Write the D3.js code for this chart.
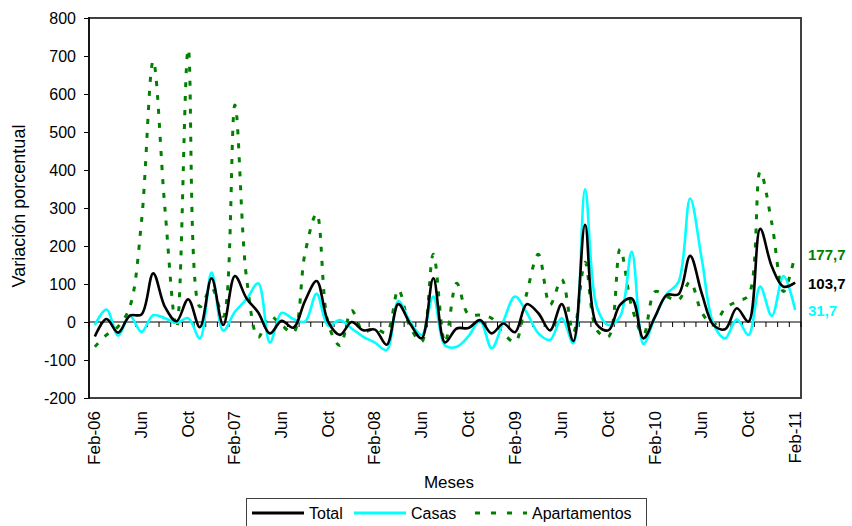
<!DOCTYPE html>
<html><head><meta charset="utf-8">
<script src="https://cdn.jsdelivr.net/npm/d3@7"></script>
<style>body{margin:0;background:#fff;} svg{display:block;font-family:Arial,"Liberation Sans",sans-serif;}</style>
</head><body><svg id="c" width="852" height="526"></svg>
<script>
const months = ["Feb-06","Mar-06","Apr-06","May-06","Jun-06","Jul-06","Aug-06","Sep-06","Oct-06","Nov-06","Dec-06","Jan-07",
"Feb-07","Mar-07","Apr-07","May-07","Jun-07","Jul-07","Aug-07","Sep-07","Oct-07","Nov-07","Dec-07","Jan-08",
"Feb-08","Mar-08","Apr-08","May-08","Jun-08","Jul-08","Aug-08","Sep-08","Oct-08","Nov-08","Dec-08","Jan-09",
"Feb-09","Mar-09","Apr-09","May-09","Jun-09","Jul-09","Aug-09","Sep-09","Oct-09","Nov-09","Dec-09","Jan-10",
"Feb-10","Mar-10","Apr-10","May-10","Jun-10","Jul-10","Aug-10","Sep-10","Oct-10","Nov-10","Dec-10","Jan-11","Feb-11"];
const tickLabels = ["Feb-06","Jun","Oct","Feb-07","Jun","Oct","Feb-08","Jun","Oct","Feb-09","Jun","Oct","Feb-10","Jun","Oct","Feb-11"];
const total = [-38,8,-28,17,20,128,40,2,60,-14,115,-8,121,62,25,-30,3,-15,55,108,0,-34,0,-22,-20,-60,47,-4,-43,115,
-54,-17,-16,5,-30,-4,-27,47,23,-22,47,-50,256,-6,-22,45,62,-43,14,71,73,174,75,-8,-19,36,1,245,146,93,103.7];
const casas = [-8,33,-36,16,-26,18,10,-2,10,-43,130,-23,27,60,102,-54,24,8,1,74,-10,5,-17,-39,-54,-74,55,1,-34,67,
-62,-65,-38,3,-69,2,67,25,-30,-47,10,-56,349,40,-8,14,185,-58,14,74,105,325,165,-5,-43,7,-34,93,16,121,31.7];
const apartamentos = [-65,-34,-12,40,265,687,300,-17,718,40,90,15,571,115,-40,15,-8,-28,180,285,-5,-62,30,-25,-17,-28,85,-12,-52,178,
-55,102,20,18,10,-30,-52,75,178,45,112,-28,157,-21,-39,192,40,-34,80,67,58,106,25,-8,36,54,70,395,260,80,177.7];
const yTicks = [-200,-100,0,100,200,300,400,500,600,700,800];
const seriesNames = ["Total","Casas","Apartamentos"];
const seriesColors = ["#000000","#00FFFF","#008000"];
const endLabels = ["103,7","31,7","177,7"];

const svg = d3.select("#c");
const L = 89, R = 801, T = 18, B = 398;
const x = d3.scaleBand().domain(months).range([L, R]);
const y = d3.scaleLinear().domain([-200, 800]).range([B, T]);
const cx = m => x(m) + x.bandwidth() / 2;

// y axis
const yAxis = svg.append("g").attr("transform", `translate(${L},0)`)
  .call(d3.axisLeft(y).tickValues(yTicks).tickFormat(d => String(d)).tickSize(5).tickSizeOuter(0).tickPadding(8));
yAxis.select(".domain").remove();
yAxis.selectAll("line").attr("stroke", "#000");
yAxis.selectAll("text").attr("font-size", "16px").attr("fill", "#000")
  .attr("font-family", "Arial, 'Liberation Sans', sans-serif");

// frame
svg.append("rect").attr("x", L).attr("y", T).attr("width", R - L).attr("height", B - T)
  .attr("fill", "none").attr("stroke", "#404040").attr("stroke-width", 2);
svg.append("line").attr("x1", L).attr("x2", L).attr("y1", T - 1).attr("y2", B + 1)
  .attr("stroke", "#000").attr("stroke-width", 1.3);

// zero axis with category ticks
const y0 = y(0);
svg.append("line").attr("x1", L).attr("x2", R).attr("y1", y0).attr("y2", y0).attr("stroke", "#000").attr("stroke-width", 1);
const bounds = months.map(m => x(m)).concat([x(months[months.length - 1]) + x.bandwidth()]);
svg.append("g").selectAll("line").data(bounds).join("line")
  .attr("x1", d => d).attr("x2", d => d).attr("y1", y0).attr("y2", y0 + 5)
  .attr("stroke", "#000").attr("stroke-width", 1);

// x labels (every 4 months)
const labeled = months.filter((m, i) => i % 4 === 0);
svg.append("g").selectAll("text").data(labeled).join("text")
  .attr("transform", (m, i) => `translate(${cx(m) + 5.5},${B + 13}) rotate(-90)`)
  .attr("text-anchor", "end").attr("font-size", "17px").text((m, i) => tickLabels[i]);

// lines
const line = d3.line().x((d, i) => cx(months[i])).y(d => y(d)).curve(d3.curveCatmullRom.alpha(0.5));
const data = [total, casas, apartamentos];
const order = [2, 1, 0];
order.forEach(k => {
  const p = svg.append("path").datum(data[k]).attr("d", line)
    .attr("fill", "none").attr("stroke", seriesColors[k]).attr("stroke-width", k === 2 ? 3 : 2.6)
    .attr("stroke-linejoin", "round");
  if (k === 2) p.attr("stroke-dasharray", "5,9");
});

// end labels
data.forEach((s, k) => {
  svg.append("text").attr("x", 808).attr("y", y(s[s.length - 1]) + 6)
    .attr("font-size", "15px").attr("font-weight", "bold").attr("fill", seriesColors[k])
    .text(endLabels[k]);
});

// axis titles
svg.append("text").attr("x", 449).attr("y", 488).attr("text-anchor", "middle")
  .attr("font-size", "17px").text("Meses");
svg.append("text").attr("transform", "translate(25,206) rotate(-90)").attr("text-anchor", "middle")
  .attr("font-size", "18px").text("Variación porcentual");

// legend
const lg = svg.append("g");
lg.append("rect").attr("x", 246.5).attr("y", 498.5).attr("width", 400).attr("height", 40)
  .attr("fill", "#fff").attr("stroke", "#404040").attr("stroke-width", 1);
const legX = [252, 354, 475];
seriesNames.forEach((n, k) => {
  const l = lg.append("line").attr("x1", legX[k]).attr("x2", legX[k] + 52).attr("y1", 513).attr("y2", 513)
    .attr("stroke", seriesColors[k]).attr("stroke-width", 3);
  if (k === 2) l.attr("stroke-dasharray", "5,11");
  lg.append("text").attr("x", legX[k] + 57).attr("y", 519).attr("font-size", "16px").text(n);
});
</script></body></html>
